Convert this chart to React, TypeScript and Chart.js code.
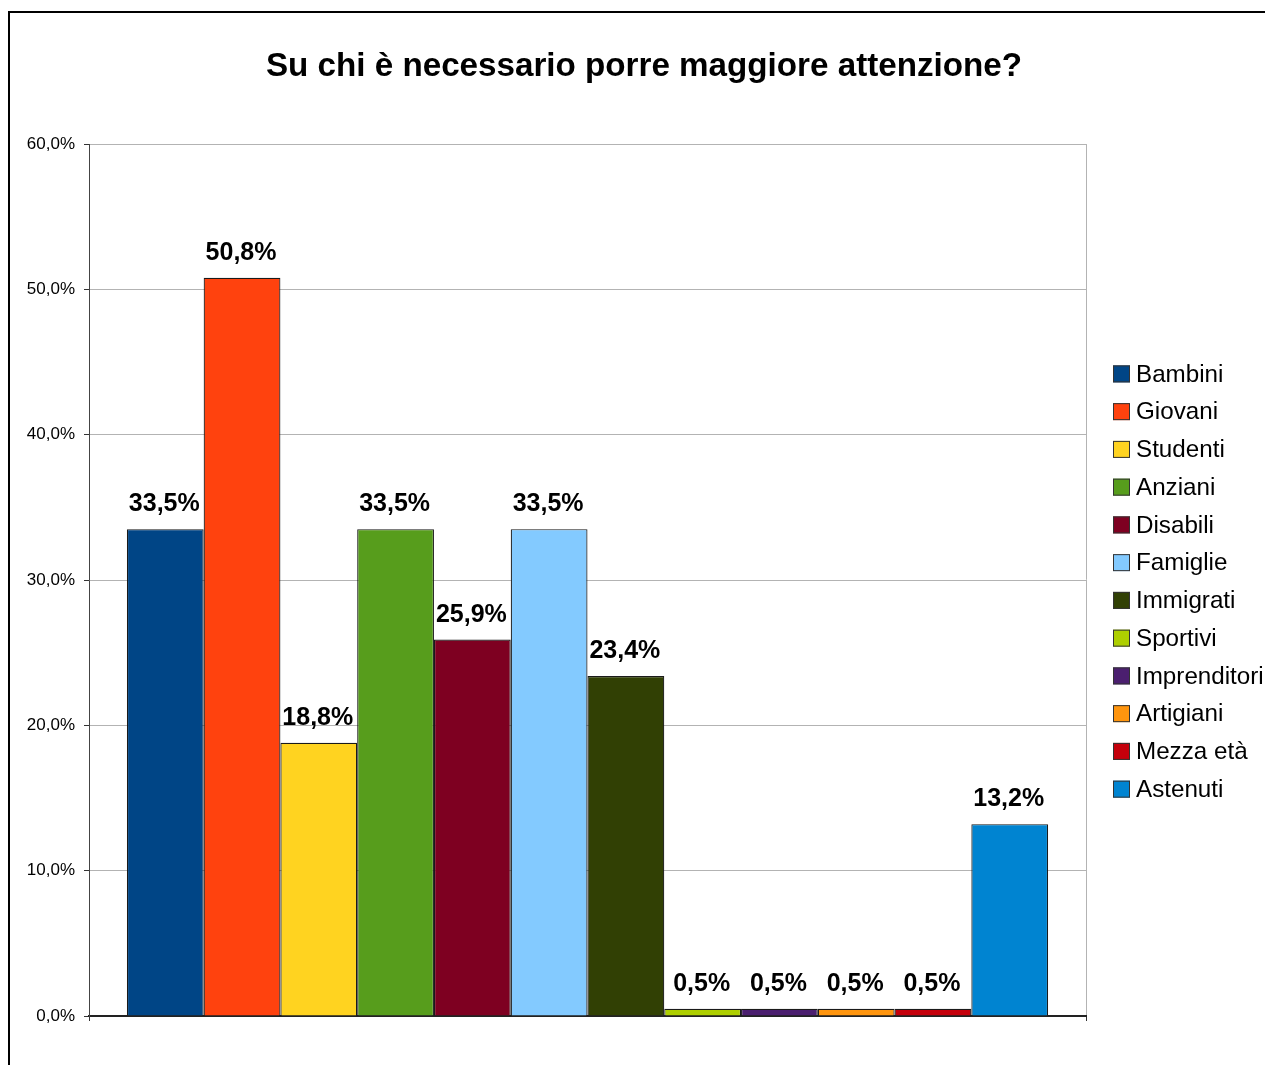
import React, { useEffect, useRef } from "react";
import { Chart, registerables, layouts } from "chart.js";

Chart.register(...registerables);

const TITLE = "Su chi è necessario porre maggiore attenzione?";
const categories = ["Bambini", "Giovani", "Studenti", "Anziani", "Disabili", "Famiglie", "Immigrati", "Sportivi", "Imprenditori", "Artigiani", "Mezza età", "Astenuti"];
const values = [33.5, 50.8, 18.8, 33.5, 25.9, 33.5, 23.4, 0.5, 0.5, 0.5, 0.5, 13.2];
const colors = ["#004586", "#ff420e", "#ffd320", "#579d1c", "#7e0021", "#83caff", "#314004", "#aecf00", "#4b1f6f", "#ff950e", "#c5000b", "#0084d1"];
const yTicks = [0, 10, 20, 30, 40, 50, 60];

const FONT = "'Liberation Sans', Arial, Helvetica, sans-serif";
const fmt = (v: number) => v.toFixed(1).replace(".", ",") + "%";

const labelsPlugin = {
  id: "valueLabels",
  afterDatasetsDraw(chart: any) {
    const ctx = chart.ctx;
    ctx.save();
    ctx.font = `bold 25px ${FONT}`;
    ctx.fillStyle = "#000";
    ctx.textAlign = "center";
    ctx.textBaseline = "alphabetic";
    chart.data.datasets.forEach((ds: any, i: number) => {
      const meta = chart.getDatasetMeta(i);
      const el = meta.data[0];
      if (!el) return;
      ctx.fillText(fmt(ds.data[0]), el.x - 1, el.y - 18);
    });
    ctx.restore();
  },
};

function drawLegend(chart: any) {
  const ctx = chart.ctx;
  const area = chart.chartArea;
  const ds = chart.data.datasets;
  const step = 37.75;
  const mid = (area.top + area.bottom) / 2 + 1.5;
  const y0 = mid - (step * (ds.length - 1)) / 2;
  const bx = area.right + 27;
  ctx.save();
  ctx.font = `24.2px ${FONT}`;
  ctx.textBaseline = "middle";
  ctx.textAlign = "left";
  ds.forEach((d: any, i: number) => {
    const cy = y0 + i * step;
    ctx.fillStyle = d.backgroundColor;
    ctx.fillRect(bx, cy - 8.5, 17, 17);
    ctx.strokeStyle = "#333";
    ctx.lineWidth = 1;
    ctx.strokeRect(bx + 0.5, cy - 8, 16, 16);
    ctx.fillStyle = "#000";
    ctx.fillText(d.label, bx + 23, cy + 1);
  });
  ctx.restore();
}

const legendPlugin = {
  id: "sideLegend",
  beforeInit(chart: any) {
    const box: any = {
      position: "right",
      weight: 1000,
      fullSize: false,
      options: {},
      left: 0,
      top: 0,
      right: 0,
      bottom: 0,
      width: 0,
      height: 0,
      isHorizontal() {
        return false;
      },
      update(maxWidth: number, maxHeight: number) {
        this.width = 192;
        this.height = maxHeight;
      },
      draw() {
        drawLegend(chart);
      },
    };
    layouts.addBox(chart, box);
  },
};

export default function App() {
  const ref = useRef<HTMLCanvasElement>(null);
  useEffect(() => {
    if (!ref.current) return;
    const chart = new Chart(ref.current, {
      type: "bar",
      data: {
        labels: [""],
        datasets: categories.map((c, i) => ({
          label: c,
          data: [values[i]],
          backgroundColor: colors[i],
          borderColor: "#1a1a1a",
          borderWidth: 1.2,
          categoryPercentage: 0.924,
          barPercentage: 1.0,
        })),
      },
      options: {
        animation: false,
        responsive: false,
        layout: { padding: { left: 0, right: 0, top: 0, bottom: 52 } },
        plugins: {
          legend: { display: false },
          tooltip: { enabled: false },
          title: {
            display: true,
            text: TITLE,
            color: "#000",
            font: { family: FONT, size: 33.2, weight: "bold" },
            padding: { top: 34, bottom: 57.2 },
          },
        },
        scales: {
          x: {
            offset: true,
            grid: { display: true, offset: true, color: "#b3b3b3", tickColor: "#333", tickLength: 5, drawTicks: true },
            border: { display: true, color: "#222", width: 2 },
            ticks: { display: false },
          },
          y: {
            min: 0,
            max: 60,
            afterFit: (s: any) => { s.width = 79; },
            afterBuildTicks: (s: any) => { s.ticks = yTicks.map((v) => ({ value: v })); },
            grid: { color: "#b3b3b3", tickColor: "#333", tickLength: 5, lineWidth: 1 },
            border: { display: true, color: "#444", width: 1 },
            ticks: {
              padding: 9,
              color: "#000",
              font: { family: FONT, size: 17 },
              callback: (v: any) => fmt(Number(v)),
            },
          },
        },
      },
      plugins: [labelsPlugin, legendPlugin],
    });
    return () => chart.destroy();
  }, []);

  return (
    <div style={{ position: "fixed", left: 0, top: 0, width: 1265, height: 1065, overflow: "hidden", background: "#fff" }}>
      <div style={{ position: "absolute", left: 8, top: 11, borderLeft: "2px solid #000", borderTop: "2px solid #000", width: 1300, height: 1100 }}>
        <canvas ref={ref} width={1268} height={1060} style={{ display: "block" }} />
      </div>
    </div>
  );
}
